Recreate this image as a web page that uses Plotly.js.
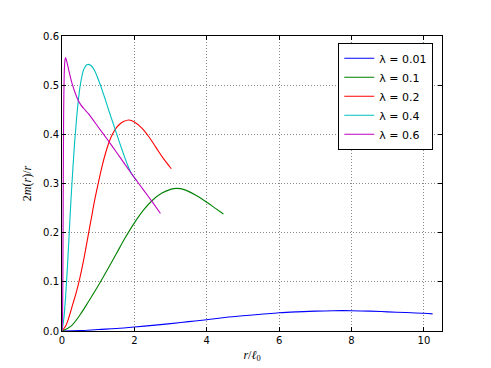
<!DOCTYPE html>
<html>
<head>
<meta charset="utf-8">
<script src="https://cdn.plot.ly/plotly-3.0.1.min.js"></script>
<style>html,body{margin:0;padding:0;background:#fff;}#chart{width:491px;height:368px;}</style>
</head>
<body>
<div id="chart"></div>
<script>
// Series labels and colours
const seriesNames = ["λ = 0.01", "λ = 0.1", "λ = 0.2", "λ = 0.4", "λ = 0.6"];
const seriesColors = ["#0000ff", "#008000", "#ff0000", "#00bfbf", "#bf00bf"];

// λ = 0.01
const x001 = [0, 0.5, 1, 1.5, 2, 2.5, 3, 3.5, 4, 4.5, 5, 5.5, 6, 6.5, 7, 7.5, 8, 8.5, 9, 9.5, 10, 10.24];
const y001 = [0, 0.0008, 0.003, 0.005, 0.008, 0.0115, 0.015, 0.019, 0.023, 0.0275, 0.031, 0.034, 0.037, 0.039, 0.0405, 0.0413, 0.0413, 0.0405, 0.039, 0.0375, 0.036, 0.0348];

// λ = 0.1
const x01 = [0, 0.25, 0.5, 0.75, 1.0, 1.25, 1.5, 1.75, 2.0, 2.25, 2.5, 2.75, 3.0, 3.15, 3.4, 3.7, 4.0, 4.25, 4.46];
const y01 = [0, 0.01, 0.033, 0.062, 0.092, 0.124, 0.157, 0.19, 0.22, 0.246, 0.266, 0.28, 0.288, 0.29, 0.287, 0.276, 0.262, 0.249, 0.238];

// λ = 0.2
const x02 = [0, 0.1, 0.2, 0.3, 0.4, 0.5, 0.6, 0.7, 0.8, 0.9, 1.0, 1.1, 1.2, 1.3, 1.4, 1.5, 1.6, 1.7, 1.85, 2.0, 2.2, 2.4, 2.6, 2.8, 3.02];
const y02 = [0, 0.01, 0.03, 0.055, 0.08, 0.11, 0.145, 0.185, 0.225, 0.265, 0.3, 0.333, 0.361, 0.384, 0.401, 0.413, 0.421, 0.426, 0.429, 0.425, 0.413, 0.395, 0.373, 0.351, 0.330];

// λ = 0.4
const x04 = [0, 0.05, 0.1, 0.15, 0.2, 0.25, 0.3, 0.35, 0.4, 0.45, 0.5, 0.55, 0.6, 0.7, 0.8, 0.9, 1.0, 1.1, 1.2, 1.3, 1.4, 1.5, 1.6, 1.7, 1.8, 1.9, 2.07];
const y04 = [0, 0.025, 0.07, 0.13, 0.2, 0.27, 0.33, 0.385, 0.43, 0.468, 0.498, 0.518, 0.532, 0.542, 0.54, 0.53, 0.512, 0.492, 0.47, 0.447, 0.425, 0.403, 0.381, 0.36, 0.34, 0.323, 0.305];

// λ = 0.6
const x06 = [0, 0.015, 0.025, 0.035, 0.045, 0.06, 0.08, 0.1, 0.13, 0.17, 0.22, 0.28, 0.35, 0.43, 0.52, 0.62, 0.73, 1.0, 1.25, 1.5, 1.75, 2.0, 2.25, 2.5, 2.72];
const y06 = [0, 0.03, 0.12, 0.3, 0.44, 0.52, 0.55, 0.556, 0.549, 0.536, 0.52, 0.503, 0.487, 0.472, 0.46, 0.451, 0.442, 0.415, 0.39, 0.364, 0.338, 0.312, 0.287, 0.262, 0.239];

// Axis ticks
const xTicks = [0, 2, 4, 6, 8, 10];
const yTicks = [0.0, 0.1, 0.2, 0.3, 0.4, 0.5, 0.6];
const yTickText = ["0.0", "0.1", "0.2", "0.3", "0.4", "0.5", "0.6"];

const xs = [x001, x01, x02, x04, x06];
const ys = [y001, y01, y02, y04, y06];

const traces = xs.map((x, i) => ({
  x: x, y: ys[i], type: "scatter", mode: "lines", name: seriesNames[i],
  line: {color: seriesColors[i], width: 1.1, shape: "spline", smoothing: i === 4 ? 0.5 : 1}
}));

const axisCommon = {
  showline: true, linecolor: "#000", linewidth: 1, mirror: "ticks",
  ticks: "inside", ticklen: 4, tickcolor: "#000", tickwidth: 1,
  showgrid: true, gridcolor: "#888", gridwidth: 1, griddash: "1px,2px",
  zeroline: false, tickfont: {family: "DejaVu Sans", size: 10, color: "#000"}
};

const layout = {
  width: 491, height: 368,
  margin: {l: 62, r: 49, t: 36, b: 37},
  paper_bgcolor: "#fff", plot_bgcolor: "#fff",
  showlegend: true,
  xaxis: Object.assign({}, axisCommon, {
    range: [0, 10.5], tickvals: xTicks, ticktext: xTicks.map(String),
    title: {text: "<i>r</i>/<i>ℓ</i><sub>0</sub>", font: {family: "Liberation Serif", size: 12, color: "#000"}, standoff: 5}
  }),
  yaxis: Object.assign({}, axisCommon, {
    range: [0, 0.6], tickvals: yTicks, ticktext: yTickText,
    title: {text: "2<i>m</i>(<i>r</i>)/<i>r</i>", font: {family: "Liberation Serif", size: 12, color: "#000"}, standoff: 8}
  }),
  legend: {
    x: 0.727, y: 0.977, xanchor: "left", yanchor: "top",
    bgcolor: "#fff", bordercolor: "#000", borderwidth: 1,
    font: {family: "DejaVu Sans", size: 11, color: "#000"},
    tracegroupgap: 0
  }
};

Plotly.newPlot("chart", traces, layout, {displayModeBar: false, staticPlot: true});
</script>
</body>
</html>
